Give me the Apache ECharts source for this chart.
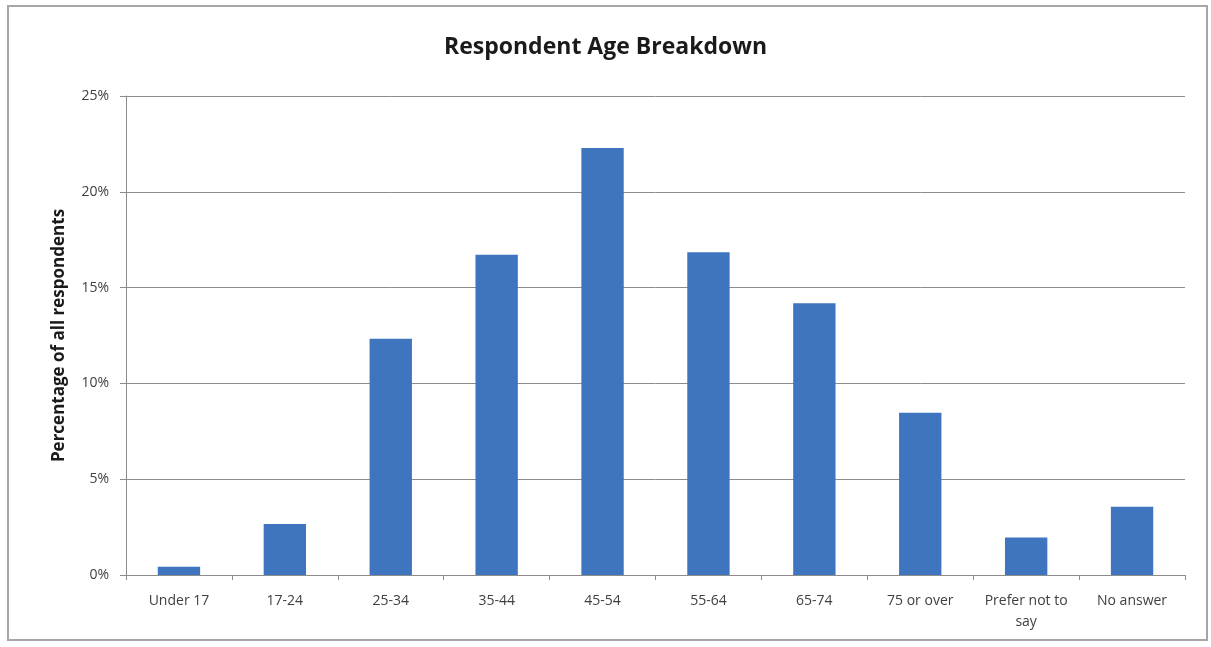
<!DOCTYPE html>
<html>
<head>
<meta charset="utf-8">
<script src="https://cdn.jsdelivr.net/npm/echarts@6/dist/echarts.min.js"></script>
<style>
html,body{margin:0;padding:0;background:#fff;}
#chart{width:1211px;height:647px;}
</style>
</head>
<body>
<div id="chart"></div>
<script>
const categories = ['Under 17','17-24','25-34','35-44','45-54','55-64','65-74','75 or over','Prefer not to\nsay','No answer'];
const values = [0.43, 2.66, 12.33, 16.72, 22.28, 16.84, 14.18, 8.47, 1.96, 3.56];
const yTicks = [0, 5, 10, 15, 20, 25];

const chart = echarts.init(document.getElementById('chart'));
const font = '"Open Sans", "DejaVu Sans", sans-serif';
chart.setOption({
  animation: false,
  backgroundColor: '#fff',
  textStyle: { fontFamily: font },
  title: {
    text: 'Respondent Age Breakdown',
    left: 'center',
    top: 31,
    textStyle: { fontFamily: font, fontSize: 23, fontWeight: 'bold', color: '#1a1a1a' }
  },
  graphic: [{
    type: 'rect',
    shape: { x: 8, y: 6, width: 1199, height: 634 },
    style: { fill: 'none', stroke: '#a6a6a6', lineWidth: 2 },
    silent: true
  }],
  grid: { left: 126, right: 26, top: 96, bottom: 72 },
  xAxis: {
    type: 'category',
    data: categories,
    axisLine: { lineStyle: { color: '#8c8c8c', width: 1 } },
    axisTick: { show: true, alignWithLabel: false, length: 5, lineStyle: { color: '#8c8c8c' } },
    axisLabel: { color: '#404040', fontSize: 14, margin: 16, interval: 0, lineHeight: 21, fontFamily: font }
  },
  yAxis: {
    type: 'value',
    min: yTicks[0],
    max: yTicks[yTicks.length - 1],
    interval: 5,
    name: 'Percentage of all respondents',
    nameLocation: 'middle',
    nameGap: 58,
    nameTextStyle: { fontSize: 17, fontWeight: 'bold', color: '#1a1a1a', fontFamily: font },
    axisLine: { show: true, lineStyle: { color: '#8c8c8c' } },
    axisTick: { show: true, length: 6, lineStyle: { color: '#8c8c8c' } },
    axisLabel: { formatter: '{value}%', color: '#404040', fontSize: 14, margin: 17, fontFamily: font },
    splitLine: { lineStyle: { color: '#8c8c8c', width: 1 } }
  },
  series: [{
    type: 'bar',
    data: values,
    barCategoryGap: '60%',
    itemStyle: { color: '#3f74bf' }
  }]
});
</script>
</body>
</html>
